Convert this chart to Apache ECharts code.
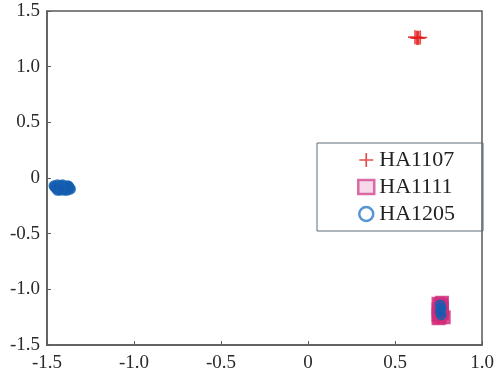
<!DOCTYPE html>
<html><head><meta charset="utf-8">
<script src="https://cdn.jsdelivr.net/npm/echarts@6/dist/echarts.min.js"></script>
<style>html,body{margin:0;padding:0;background:#fff}#c{width:497px;height:383px}</style>
</head><body><div id="c"></div>
<script>
const seriesNames = ['HA1107', 'HA1111', 'HA1205'];
const xTicks = [-1.5, -1.0, -0.5, 0, 0.5, 1.0];
const yTicks = [-1.5, -1.0, -0.5, 0, 0.5, 1.0, 1.5];
const ha1107 = [[0.615,1.265],[0.63,1.26],[0.645,1.262],[0.635,1.257],[0.625,1.26]];
const ha1111 = [[0.75,-1.13],[0.77,-1.12],[0.76,-1.15],[0.75,-1.18],[0.77,-1.17],[0.76,-1.20],[0.75,-1.23],[0.77,-1.22],[0.76,-1.25],[0.78,-1.25],[0.75,-1.26],[0.765,-1.14],[0.755,-1.21]];
const ha1205 = [[-1.46,-0.07],[-1.45,-0.09],[-1.44,-0.06],[-1.43,-0.10],[-1.42,-0.07],[-1.41,-0.09],[-1.40,-0.11],[-1.39,-0.08],[-1.38,-0.10],[-1.37,-0.09],[-1.44,-0.11],[-1.41,-0.06],[-1.38,-0.07],[-1.43,-0.08],[-1.40,-0.10],
  [-1.455,-0.08],[-1.435,-0.09],[-1.425,-0.11],[-1.415,-0.08],[-1.395,-0.095],[-1.385,-0.11],[-1.375,-0.075],[-1.365,-0.10],[-1.445,-0.085],[-1.42,-0.095],
  [0.76,-1.14],[0.765,-1.17],[0.76,-1.20],[0.765,-1.23]];
const fmt = v => (v === 0 ? '0' : v.toFixed(1));
const font = '"Liberation Serif", "DejaVu Serif", serif';
const chart = echarts.init(document.getElementById('c'));
chart.setOption({
  animation: false,
  backgroundColor: '#fff',
  grid: {left: 47, right: 15, top: 11, bottom: 38, show: true, borderColor: '#5a5a5a', borderWidth: 1.5},
  xAxis: {type: 'value', min: xTicks[0], max: xTicks[xTicks.length-1], interval: 0.5,
    axisLine: {show: true, onZero: false, lineStyle: {color: '#5a5a5a', width: 1.5}},
    axisTick: {show: true, inside: true, length: 4, lineStyle: {color: '#5a5a5a'}},
    splitLine: {show: false},
    axisLabel: {formatter: fmt, color: '#2a2a2a', fontFamily: font, fontSize: 19, margin: 9}},
  yAxis: {type: 'value', min: yTicks[0], max: yTicks[yTicks.length-1], interval: 0.5,
    axisLine: {show: true, onZero: false, lineStyle: {color: '#5a5a5a', width: 1.5}},
    axisTick: {show: true, inside: true, length: 4, lineStyle: {color: '#5a5a5a'}},
    splitLine: {show: false},
    axisLabel: {formatter: fmt, color: '#2a2a2a', fontFamily: font, fontSize: 19, margin: 7}},
  legend: {orient: 'vertical', left: 317, top: 143,
    data: [
      {name: seriesNames[0]},
      {name: seriesNames[1], itemStyle: {color: 'rgba(235,160,200,0.5)', borderColor: '#d04a90', borderWidth: 2.5}},
      {name: seriesNames[2], itemStyle: {color: '#fff', borderColor: '#2a7ac8', borderWidth: 2.5}}
    ],
    borderColor: '#5a6a7a', borderWidth: 1, padding: [6, 28, 6, 40], itemGap: 5,
    itemWidth: 16, itemHeight: 14,
    textStyle: {fontFamily: font, fontSize: 22, color: '#222'}},
  series: [
    {name: seriesNames[0], type: 'scatter', data: ha1107, symbol: 'path://M4.4,0H5.6V4.4H10V5.6H5.6V10H4.4V5.6H0V4.4H4.4Z', symbolSize: 14,
      itemStyle: {color: '#e41e1e'}},
    {name: seriesNames[1], type: 'scatter', data: ha1111, symbol: 'rect', symbolSize: 12,
      itemStyle: {color: 'rgba(214,40,120,0.8)', borderColor: '#d0307e', borderWidth: 2}},
    {name: seriesNames[2], type: 'scatter', data: ha1205, symbol: 'circle', symbolSize: 9,
      itemStyle: {color: 'rgba(20,90,175,0.85)', borderColor: '#1560b0', borderWidth: 2}}
  ]
});
</script></body></html>
